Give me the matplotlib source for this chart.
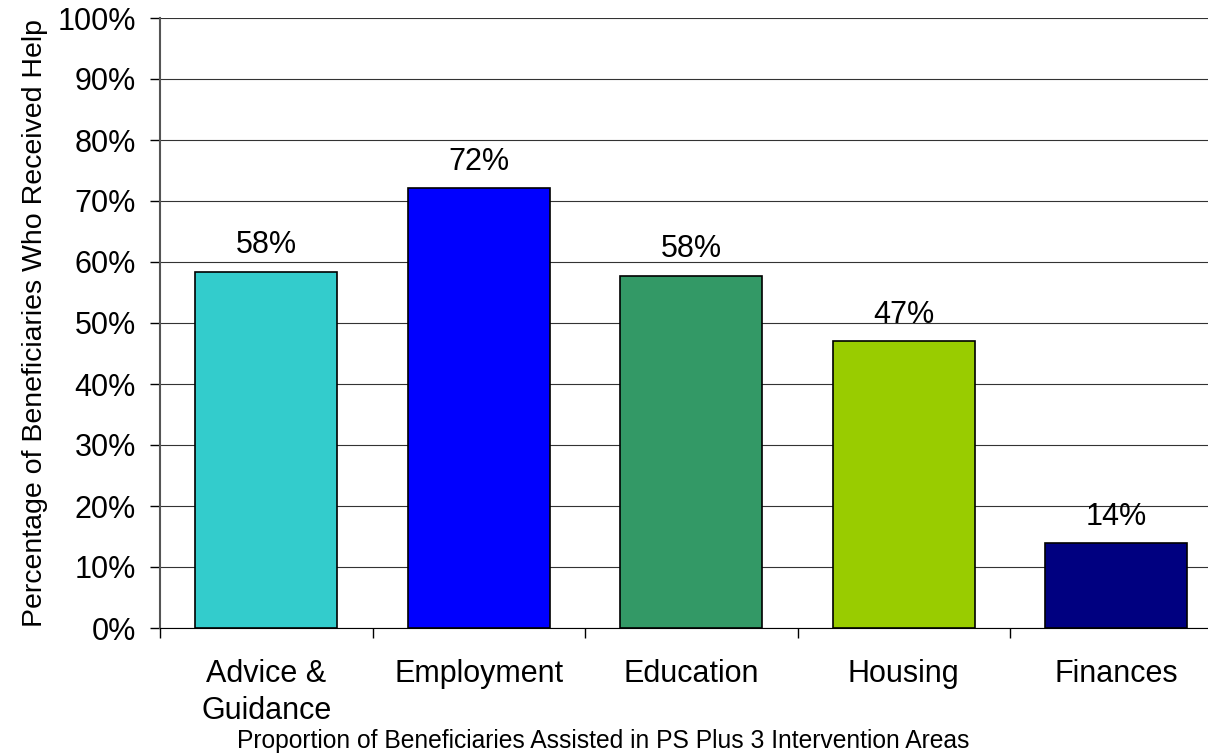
import matplotlib
matplotlib.use("Agg")
import matplotlib.pyplot as plt

categories = ["Advice &\nGuidance", "Employment", "Education", "Housing", "Finances"]
values = [58.4, 72.1, 57.7, 47.0, 13.9]
labels = ["58%", "72%", "58%", "47%", "14%"]
colors = ["#33CCCC", "#0000FF", "#339966", "#99CC00", "#000080"]
yticks = list(range(0, 101, 10))
ytick_labels = [f"{t}%" for t in yticks]

plt.rcParams["font.family"] = ["Liberation Sans", "DejaVu Sans"]

fig = plt.figure(figsize=(12.08, 7.54), dpi=100)
ax = fig.add_axes([160 / 1208, 126 / 754, 1062.5 / 1208, 610 / 754])

x = list(range(len(categories)))
ax.bar(x, values, width=0.67, color=colors, edgecolor="black", linewidth=1.2, zorder=3)
for xi, v, lab in zip(x, values, labels):
    ax.text(xi, v + 1.9, lab, ha="center", va="bottom", fontsize=22)

ax.set_xlim(-0.5, len(categories) - 0.5)
ax.set_ylim(0, 100)
ax.set_yticks(yticks)
ax.set_yticklabels(ytick_labels, fontsize=22)
ax.yaxis.grid(True, color="#333333", linewidth=0.8, zorder=0)
ax.set_axisbelow(True)

ax.set_xticks([i + 0.5 for i in range(-1, len(categories))], minor=False)
ax.set_xticklabels([])
ax.set_xticks(x, minor=True)
ax.set_xticklabels(categories, minor=True, fontsize=22, linespacing=1.32)
ax.tick_params(axis="x", which="major", length=7.2, direction="out", color="black", width=1)
ax.tick_params(axis="x", which="minor", length=0, pad=22)
ax.tick_params(axis="y", length=7.2, direction="out", color="black", width=1, pad=10)

for s in ["top", "right"]:
    ax.spines[s].set_visible(False)
ax.spines["left"].set_color("#555555")
ax.spines["left"].set_linewidth(1.5)
ax.spines["bottom"].set_color("black")

fig.text(35 / 1208, 1 - 323 / 754, "Percentage of Beneficiaries Who Received Help",
         rotation=90, ha="center", va="center", fontsize=20.5)
fig.text(603 / 1208, 1 - 741 / 754, "Proportion of Beneficiaries Assisted in PS Plus 3 Intervention Areas",
         ha="center", va="center", fontsize=17.7)

fig.savefig("out.png", dpi=100)
